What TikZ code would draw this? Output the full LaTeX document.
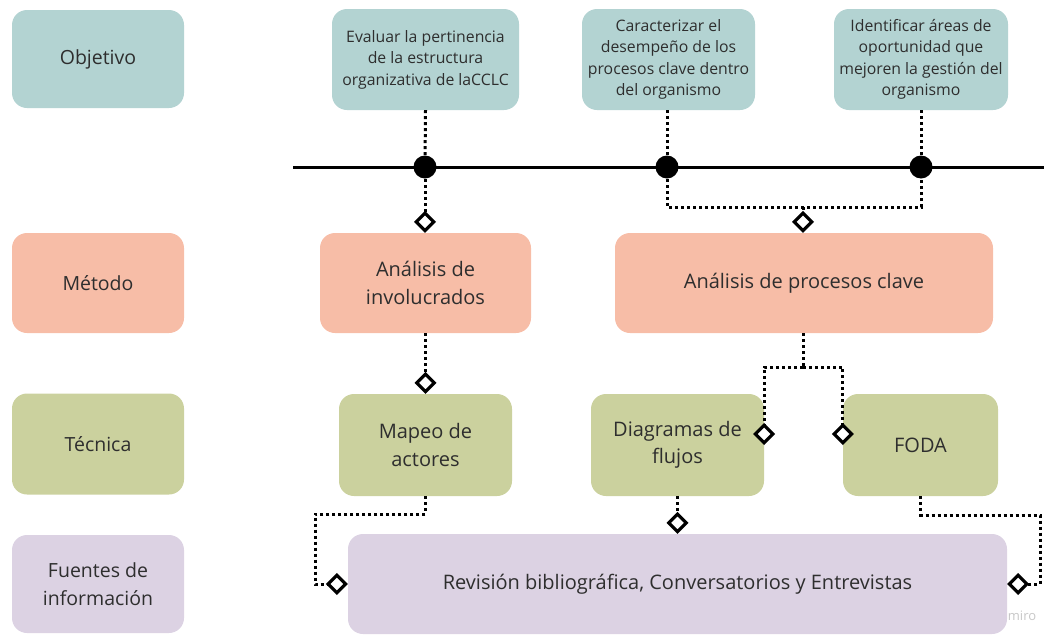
\documentclass[tikz,border=0pt]{standalone}
\usepackage{fontspec}
\setmainfont{Open Sans}
\usetikzlibrary{arrows.meta,calc}
\definecolor{cteal}{HTML}{B3D3D2}
\definecolor{csalmon}{HTML}{F7BDA7}
\definecolor{colive}{HTML}{CBD19E}
\definecolor{clav}{HTML}{DCD2E3}
\definecolor{ctext}{HTML}{2E2E2E}
\tikzset{
  box/.style={rounded corners=15pt, align=center, text=ctext, inner sep=0pt, font=\fontsize{20}{27.5}\selectfont},
  lblbox/.style={box, font=\fontsize{19.5}{28}\selectfont},
  objbox/.style={box, fill=cteal, font=\fontsize{15.8}{21.5}\selectfont},
  dotline/.style={line width=3pt, dash pattern=on 3pt off 3pt},
  diam/.style={-{Diamond[open, fill=white, length=22pt, width=22pt, line width=3.2pt]}},
  blackdot/.style={circle, fill=black, minimum size=23pt, inner sep=0pt}
}
\begin{document}
\begin{tikzpicture}[x=1pt,y=-1pt]
\useasboundingbox (0,0) rectangle (1044,635);
% left labels
\node[lblbox, fill=cteal, minimum width=172pt, minimum height=98pt] (objL) at (98,59) {Objetivo};
\node[lblbox, fill=csalmon, minimum width=172pt, minimum height=100pt] (metL) at (98,283) {Método};
\node[lblbox, fill=colive, minimum width=172pt, minimum height=101pt] (tecL) at (98,444) {Técnica};
\node[lblbox, fill=clav, minimum width=172pt, minimum height=98pt] (fueL) at (98,584) {Fuentes de\\información};
% objectives
\node[objbox, minimum width=187pt, minimum height=101pt] (o1) at (425.5,59.5) {Evaluar la pertinencia\\de la estructura\\organizativa de laCCLC};
\node[objbox, minimum width=173pt, minimum height=101pt] (o2) at (668.5,59.5) {Caracterizar el\\desempeño de los\\procesos clave dentro\\del organismo};
\node[objbox, minimum width=174pt, minimum height=101pt] (o3) at (921,59.5) {Identificar áreas de\\oportunidad que\\mejoren la gestión del\\organismo};
% methods
\node[box, fill=csalmon, minimum width=211pt, minimum height=100pt] (m1) at (425.5,283) {Análisis de\\involucrados};
\node[box, fill=csalmon, minimum width=378pt, minimum height=100pt] (m2) at (804,283) {Análisis de procesos clave};
% techniques
\node[box, fill=colive, minimum width=173pt, minimum height=102pt] (t1) at (425.5,445) {Mapeo de\\actores};
\node[box, fill=colive, minimum width=173pt, minimum height=102pt] (t2) at (677.5,445) {Diagramas de\\flujos};
\node[box, fill=colive, minimum width=155pt, minimum height=102pt] (t3) at (920.5,445) {FODA};
% sources
\node[box, fill=clav, minimum width=659pt, minimum height=100pt] (rev) at (677.5,584) {Revisión bibliográfica, Conversatorios y Entrevistas};
% timeline
\coordinate (tl0) at (293,167);
\coordinate (tl1) at (1044,167);
\draw[line width=3pt] (tl0) -- (tl1);
\coordinate (j1) at (803,207);
\coordinate (j2) at (803,367);
\coordinate (k1) at (315,514);
\coordinate (k3) at (1040,515);
% dots positions
\coordinate (p1) at (425,167);
\coordinate (p2) at (667,167);
\coordinate (p3) at (921,167);
% connectors
\draw[dotline] (o1.south) -- (p1);
\draw[dotline] (o2.south -| p2) -- (p2);
\draw[dotline] (o3.south -| p3) -- (p3);
\draw[dotline, diam] (p1) -- (p1 |- m1.north);
\draw[dotline] (p2) |- (j1) -| (p3);
\draw[dotline, diam] (j1) -- (j1 |- m2.north);
\draw[dotline, diam] (m1.south) -- (t1.north);
\draw[dotline] (m2.south -| j2) -- (j2);
\draw[dotline, diam] (j2) -| (t2.east);
\draw[dotline, diam] (j2) -| (t3.west);
\draw[dotline, diam] (t1.south) |- (k1) |- (rev.west);
\draw[dotline, diam] (t2.south) -- (t2.south |- rev.north);
\draw[dotline, diam] (t3.south) |- (k3) |- (rev.east);
% dots
\node[blackdot] (d1) at (p1) {};
\node[blackdot] (d2) at (p2) {};
\node[blackdot] (d3) at (p3) {};
% watermark
\node[text=black!22, font=\fontsize{13}{15}\selectfont] (miro) at (1022,616) {miro};
\end{tikzpicture}
\end{document}
